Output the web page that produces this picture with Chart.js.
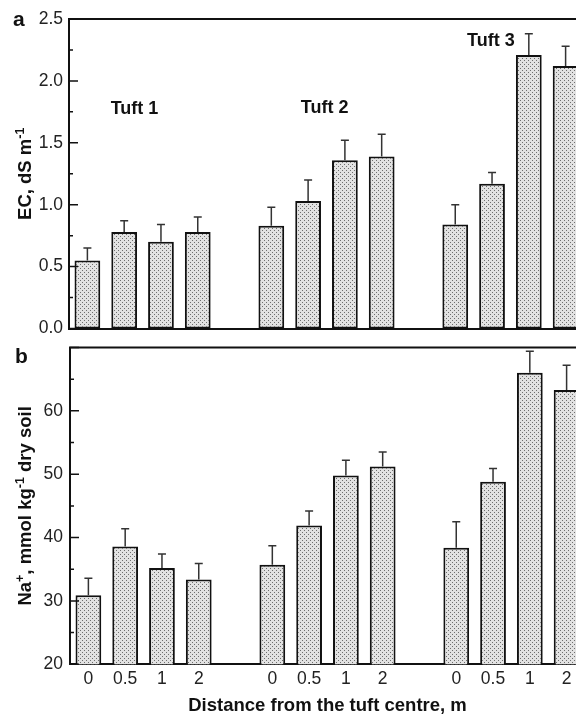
<!DOCTYPE html>
<html>
<head>
<meta charset="utf-8">
<script src="https://cdn.jsdelivr.net/npm/chart.js@4.4.0/dist/chart.umd.min.js"></script>
<style>
  html, body { margin: 0; padding: 0; overflow: hidden; background: #fff; width: 576px; height: 715px; }
  canvas { position: absolute; left: 0; }
  #chartA { top: 0; }
  #chartB { top: 330px; }
</style>
</head>
<body>
<canvas id="chartA" width="600" height="345"></canvas>
<canvas id="chartB" width="600" height="385"></canvas>
<script>
// distances from tuft centre (m), repeated for each tuft
const distances = ['0', '0.5', '1', '2'];
const tuftNames = ['Tuft 1', 'Tuft 2', 'Tuft 3'];

// panel a: EC, dS m-1 (tuft 1, tuft 2, tuft 3)
const ecMean = [0.55, 0.78, 0.70, 0.78, 0.83, 1.03, 1.36, 1.39, 0.84, 1.17, 2.21, 2.12];
const ecSE   = [0.10, 0.09, 0.14, 0.12, 0.15, 0.17, 0.16, 0.18, 0.16, 0.09, 0.17, 0.16];

// panel b: Na+, mmol kg-1 dry soil
const naMean = [30.9, 38.6, 35.2, 33.4, 35.7, 41.9, 49.8, 51.2, 38.4, 48.8, 66.0, 63.3];
const naSE   = [2.7, 2.8, 2.2, 2.5, 3.0, 2.3, 2.4, 2.3, 4.1, 2.1, 3.4, 3.9];

// where the tuft names sit (category index, EC value)
const tuftLabelX = [1.28, 6.45, 10.97];
const tuftLabelY = [1.735, 1.74, 2.28];

Chart.defaults.font.family = '"Liberation Sans", Arial, Helvetica, sans-serif';
Chart.defaults.color = '#222';

// put an empty slot between the tufts
function withGaps(arr) {
  const out = [];
  for (let g = 0; g < tuftNames.length; g++) {
    if (g > 0) out.push(null);
    out.push(...arr.slice(g * 4, g * 4 + 4));
  }
  return out;
}
const labels = withGaps(distances.concat(distances, distances)).map(v => v === null ? '' : v);

// stippled bar fill
function dotPattern() {
  const c = document.createElement('canvas');
  c.width = 4; c.height = 4;
  const g = c.getContext('2d');
  g.fillStyle = '#e2e2e2';
  g.fillRect(0, 0, 4, 4);
  g.fillStyle = '#6e6e6e';
  g.fillRect(0, 0, 1, 1);
  g.fillRect(2, 2, 1, 1);
  return g.createPattern(c, 'repeat');
}
const fill = dotPattern();

// upper error bars only
const errorBars = {
  id: 'errorBars',
  afterDatasetsDraw(chart) {
    const ctx = chart.ctx, y = chart.scales.y;
    const ds = chart.data.datasets[0];
    const meta = chart.getDatasetMeta(0);
    ctx.save();
    ctx.strokeStyle = '#333';
    ctx.lineWidth = 1.5;
    meta.data.forEach((bar, i) => {
      const v = ds.data[i], e = ds.errors[i];
      if (v == null || e == null) return;
      const y0 = y.getPixelForValue(v), y1 = y.getPixelForValue(v + e);
      ctx.beginPath();
      ctx.moveTo(bar.x, y0); ctx.lineTo(bar.x, y1);
      ctx.moveTo(bar.x - 4, y1); ctx.lineTo(bar.x + 4, y1);
      ctx.stroke();
    });
    ctx.restore();
  }
};

// top line of the frame + inward tick marks
const frame = {
  id: 'frame',
  afterDraw(chart) {
    const {ctx, chartArea: a} = chart;
    const y = chart.scales.y;
    ctx.save();
    ctx.strokeStyle = '#111';
    ctx.lineWidth = 2;
    ctx.beginPath();
    ctx.moveTo(a.left - 1, a.top);
    ctx.lineTo(chart.width, a.top);
    ctx.stroke();
    const vals = y.ticks.map(t => t.value);
    const step = vals[1] - vals[0];
    ctx.lineWidth = 1.5;
    ctx.beginPath();
    vals.forEach(v => {
      const p = y.getPixelForValue(v);
      ctx.moveTo(a.left, p); ctx.lineTo(a.left + 9, p);
      if (v + step / 2 <= y.max) {
        const q = y.getPixelForValue(v + step / 2);
        ctx.moveTo(a.left, q); ctx.lineTo(a.left + 4, q);
      }
    });
    ctx.stroke();
    ctx.restore();
  }
};

// rotated y title with superscripts, and the panel letter
function sideText(parts, baseX, letter, letterX, letterY) {
  return {
    id: 'sideText',
    afterDraw(chart) {
      const ctx = chart.ctx, a = chart.chartArea;
      const main = 'bold 18.5px "Liberation Sans", Arial, sans-serif';
      const sup = 'bold 12.5px "Liberation Sans", Arial, sans-serif';
      ctx.save();
      ctx.fillStyle = '#111';
      ctx.textBaseline = 'alphabetic';
      ctx.textAlign = 'left';
      let total = 0;
      parts.forEach(p => { ctx.font = p.sup ? sup : main; total += ctx.measureText(p.t).width; });
      ctx.translate(baseX, (a.top + a.bottom) / 2);
      ctx.rotate(-Math.PI / 2);
      let x = -total / 2;
      parts.forEach(p => {
        ctx.font = p.sup ? sup : main;
        ctx.fillText(p.t, x, p.sup ? -7.5 : 0);
        x += ctx.measureText(p.t).width;
      });
      ctx.restore();
      ctx.save();
      ctx.fillStyle = '#111';
      ctx.font = 'bold 21px "Liberation Sans", Arial, sans-serif';
      ctx.textBaseline = 'alphabetic';
      ctx.fillText(letter, letterX, letterY);
      ctx.restore();
    }
  };
}

const tuftText = {
  id: 'tuftText',
  afterDraw(chart) {
    const ctx = chart.ctx, x = chart.scales.x, y = chart.scales.y;
    ctx.save();
    ctx.fillStyle = '#111';
    ctx.font = 'bold 18px "Liberation Sans", Arial, sans-serif';
    ctx.textAlign = 'center';
    ctx.textBaseline = 'alphabetic';
    tuftNames.forEach((n, i) => {
      ctx.fillText(n, x.getPixelForValue(tuftLabelX[i]), y.getPixelForValue(tuftLabelY[i]));
    });
    ctx.restore();
  }
};

function barDataset(mean, se) {
  return {
    data: withGaps(mean),
    errors: withGaps(se),
    backgroundColor: fill,
    borderColor: '#111',
    borderWidth: 2,
    borderSkipped: false,
    barPercentage: 0.7,
    categoryPercentage: 1
  };
}

const common = {
  responsive: false,
  animation: false,
  plugins: { legend: { display: false }, tooltip: { enabled: false } }
};

// panel a
new Chart(document.getElementById('chartA'), {
  type: 'bar',
  data: { labels: labels, datasets: [barDataset(ecMean, ecSE)] },
  options: {
    ...common,
    layout: { padding: { top: 19, right: 16, left: 0, bottom: 0 } },
    scales: {
      x: {
        grid: { display: false, drawTicks: false },
        ticks: { display: false },
        border: { display: true, color: '#111', width: 2 },
        afterFit(s) { s.height = 13.5; }
      },
      y: {
        min: 0, max: 2.5,
        grid: { display: false, drawTicks: false },
        border: { display: true, color: '#111', width: 2 },
        ticks: { stepSize: 0.5, padding: 6, font: { size: 17.5 }, callback: v => v.toFixed(1) },
        afterFit(s) { s.width = 69; }
      }
    }
  },
  plugins: [errorBars, frame, tuftText,
    sideText([{t: 'EC, dS m'}, {t: '-1', sup: true}], 31, 'a', 13, 26)]
});

// panel b
new Chart(document.getElementById('chartB'), {
  type: 'bar',
  data: { labels: labels, datasets: [barDataset(naMean, naSE)] },
  options: {
    ...common,
    layout: { padding: { top: 15.7, right: 15, left: 0, bottom: 0 } },
    scales: {
      x: {
        grid: { display: false, drawTicks: false },
        ticks: { padding: 4, font: { size: 17.5 }, autoSkip: false, maxRotation: 0 },
        border: { display: true, color: '#111', width: 2 },
        title: {
          display: true,
          text: 'Distance from the tuft centre, m',
          color: '#111',
          font: { size: 18.5, weight: 'bold', lineHeight: 1 },
          padding: 0
        },
        afterFit(s) { s.height = 50.7; }
      },
      y: {
        min: 20, max: 70,
        grid: { display: false, drawTicks: false },
        border: { display: true, color: '#111', width: 2 },
        ticks: { stepSize: 10, padding: 7, font: { size: 17.5 }, callback: v => v === 70 ? '' : v },
        afterFit(s) { s.width = 70; }
      }
    }
  },
  plugins: [errorBars, frame,
    sideText([{t: 'Na'}, {t: '+', sup: true}, {t: ', mmol kg'}, {t: '-1', sup: true}, {t: ' dry soil'}], 31, 'b', 15, 33)]
});
</script>
</body>
</html>
